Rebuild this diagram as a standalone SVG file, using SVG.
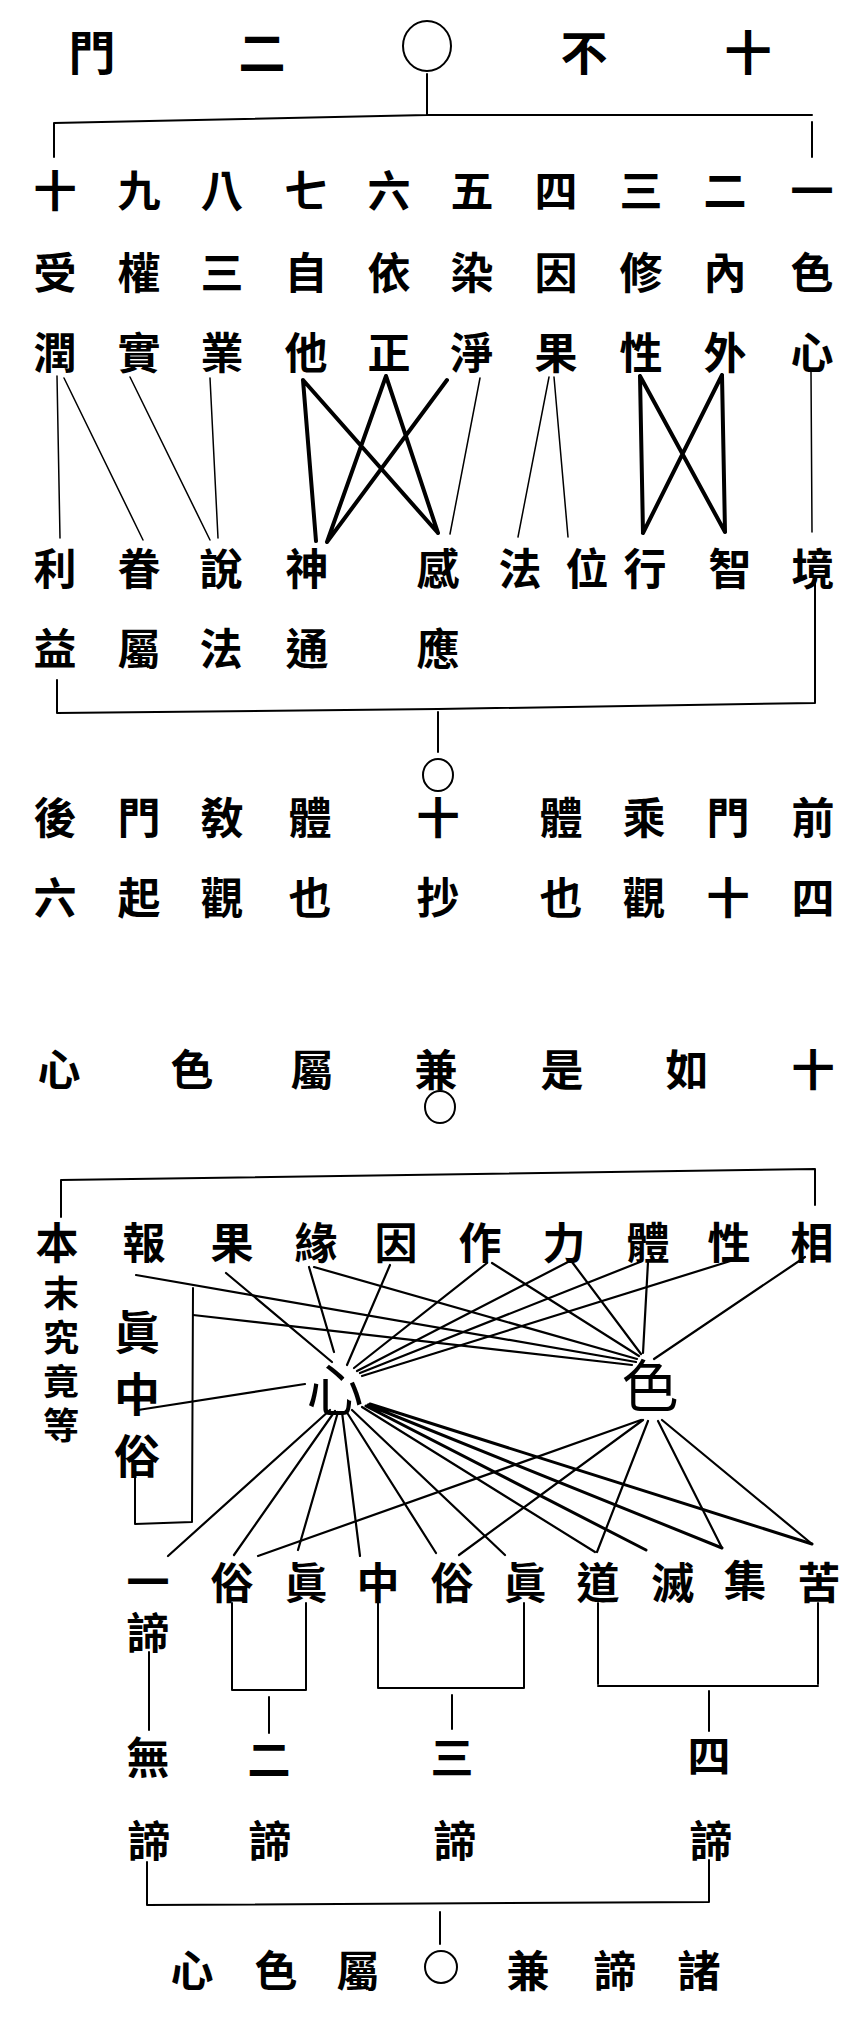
<svg xmlns="http://www.w3.org/2000/svg" width="864" height="2025" viewBox="0 0 864 2025">
<style>
text{font-family:"Noto Sans CJK TC","Noto Sans CJK SC",sans-serif;font-weight:700;fill:#000;text-anchor:middle;dominant-baseline:central}
.t{font-size:47px}
.r{font-size:43px}
.s{font-size:36px}
.b{font-size:57px;font-weight:400}
.m{font-size:46px}
.v{writing-mode:vertical-rl;text-anchor:start}
.ln{stroke:#000;fill:none;stroke-width:2;stroke-linecap:round;stroke-linejoin:round}
.th{stroke:#000;fill:none;stroke-width:4;stroke-linecap:round}
.tn{stroke:#000;fill:none;stroke-width:1.5;stroke-linecap:round}
.ne{stroke:#000;fill:none;stroke-width:2.2;stroke-linecap:round}
.c{stroke:#000;fill:none;stroke-width:2}
</style>
<rect width="864" height="2025" fill="#fff"/>

<g id="title">
<text class="t" x="92" y="49">門</text>
<text class="t" x="262" y="49">二</text>
<ellipse class="c" cx="427" cy="46" rx="24" ry="25"/>
<text class="t" x="584" y="49">不</text>
<text class="t" x="748" y="49">十</text>
</g>

<g id="row-numbers">
<text class="r" x="55" y="188">十</text>
<text class="r" x="139" y="188">九</text>
<text class="r" x="222" y="188">八</text>
<text class="r" x="306" y="188">七</text>
<text class="r" x="389" y="188">六</text>
<text class="r" x="472" y="188">五</text>
<text class="r" x="556" y="188">四</text>
<text class="r" x="641" y="188">三</text>
<text class="r" x="725" y="188">二</text>
<text class="r" x="812" y="188">一</text>
</g>
<g id="row-gates-1">
<text class="r" x="55" y="270">受</text>
<text class="r" x="139" y="270">權</text>
<text class="r" x="222" y="270">三</text>
<text class="r" x="306" y="270">自</text>
<text class="r" x="389" y="270">依</text>
<text class="r" x="472" y="270">染</text>
<text class="r" x="556" y="270">因</text>
<text class="r" x="641" y="270">修</text>
<text class="r" x="725" y="270">內</text>
<text class="r" x="812" y="270">色</text>
</g>
<g id="row-gates-2">
<text class="r" x="55" y="350">潤</text>
<text class="r" x="139" y="350">實</text>
<text class="r" x="222" y="350">業</text>
<text class="r" x="306" y="350">他</text>
<text class="r" x="389" y="350">正</text>
<text class="r" x="472" y="350">淨</text>
<text class="r" x="556" y="350">果</text>
<text class="r" x="641" y="350">性</text>
<text class="r" x="725" y="350">外</text>
<text class="r" x="812" y="350">心</text>
</g>
<g id="row-myo-1">
<text class="r" x="55" y="566">利</text>
<text class="r" x="139" y="566">眷</text>
<text class="r" x="221" y="566">說</text>
<text class="r" x="307" y="566">神</text>
<text class="r" x="438" y="566">感</text>
<text class="r" x="520" y="566">法</text>
<text class="r" x="587" y="566">位</text>
<text class="r" x="645" y="566">行</text>
<text class="r" x="730" y="566">智</text>
<text class="r" x="813" y="566">境</text>
</g>
<g id="row-myo-2">
<text class="r" x="55" y="646">益</text>
<text class="r" x="139" y="646">屬</text>
<text class="r" x="221" y="646">法</text>
<text class="r" x="307" y="646">通</text>
<text class="r" x="438" y="646">應</text>
</g>

<g id="circle-mid1">
<ellipse class="c" cx="438" cy="775" rx="15" ry="16"/>
</g>
<g id="row-note-1">
<text class="r" x="55" y="815">後</text>
<text class="r" x="139" y="815">門</text>
<text class="r" x="222" y="815">敎</text>
<text class="r" x="310" y="815">體</text>
<text class="r" x="438" y="815">十</text>
<text class="r" x="561" y="815">體</text>
<text class="r" x="644" y="815">乘</text>
<text class="r" x="728" y="815">門</text>
<text class="r" x="813" y="815">前</text>
</g>
<g id="row-note-2">
<text class="r" x="55" y="895">六</text>
<text class="r" x="139" y="895">起</text>
<text class="r" x="222" y="895">觀</text>
<text class="r" x="310" y="895">也</text>
<text class="r" x="438" y="895">抄</text>
<text class="r" x="561" y="895">也</text>
<text class="r" x="644" y="895">觀</text>
<text class="r" x="728" y="895">十</text>
<text class="r" x="813" y="895">四</text>
</g>
<g id="row-heading-2">
<text class="r" x="59" y="1067">心</text>
<text class="r" x="192" y="1067">色</text>
<text class="r" x="312" y="1067">屬</text>
<text class="r" x="436" y="1067">兼</text>
<text class="r" x="562" y="1067">是</text>
<text class="r" x="687" y="1067">如</text>
<text class="r" x="813" y="1067">十</text>
<ellipse class="c" cx="440" cy="1107" rx="15" ry="16"/>
</g>

<g id="row-nyoze">
<text class="r" x="57" y="1240">本</text>
<text class="r" x="144" y="1240">報</text>
<text class="r" x="232" y="1240">果</text>
<text class="r" x="316" y="1240">緣</text>
<text class="r" x="396" y="1240">因</text>
<text class="r" x="480" y="1240">作</text>
<text class="r" x="564" y="1240">力</text>
<text class="r" x="648" y="1240">體</text>
<text class="r" x="729" y="1240">性</text>
<text class="r" x="812" y="1240">相</text>
</g>
<g id="honmatsu">
<text class="s v" x="61" y="1275" letter-spacing="8">末究竟等</text>
</g>
<g id="shinchuzoku">
<text class="m v" x="137" y="1309" letter-spacing="16">眞中俗</text>
</g>
<g id="shin">
<text class="b" x="335" y="1386">心</text>
</g>
<g id="shiki">
<text class="b" x="650" y="1382">色</text>
</g>

<g id="row-truths">
<text class="r v" x="148" y="1560" letter-spacing="8">一諦</text>
<text class="r" x="232" y="1580">俗</text>
<text class="r" x="306" y="1580">眞</text>
<text class="r" x="378" y="1580">中</text>
<text class="r" x="452" y="1580">俗</text>
<text class="r" x="525" y="1580">眞</text>
<text class="r" x="598" y="1580">道</text>
<text class="r" x="673" y="1580">滅</text>
<text class="r" x="745" y="1578">集</text>
<text class="r" x="819" y="1580">苦</text>
</g>
<g id="truth-counts">
<text class="r" x="148" y="1755">無</text>
<text class="r" x="269" y="1757">二</text>
<text class="r" x="452" y="1755">三</text>
<text class="r" x="709" y="1753">四</text>
<text class="r" x="149" y="1838">諦</text>
<text class="r" x="270" y="1838">諦</text>
<text class="r" x="455" y="1838">諦</text>
<text class="r" x="711" y="1838">諦</text>
</g>
<g id="footer">
<text class="r" x="192" y="1968">心</text>
<text class="r" x="276" y="1968">色</text>
<text class="r" x="358" y="1968">屬</text>
<ellipse class="c" cx="441" cy="1967" rx="16" ry="16"/>
<text class="r" x="528" y="1968">兼</text>
<text class="r" x="615" y="1968">諦</text>
<text class="r" x="699" y="1968">諸</text>
</g>

<g id="connectors">
<path class="ln" d="M427,74 L427,115 M54,157 L54,123 L427,115 L812,115 M812,122 L812,157"/>
<path class="tn" d="M57,376 L60,538 M64,378 L143,540 M130,377 L210,540 M210,378 L218,538 M480,378 L450,534 M549,377 L518,537 M554,377 L568,537 M811,372 L812,532"/>
<path class="th" d="M303,380 L316,541 M303,380 L438,533 M386,376 L327,542 M386,376 L438,533 M447,380 L327,542 M640,376 L643,533 M640,376 L725,532 M722,375 L725,532 M722,375 L643,533"/>
<path class="ln" d="M57,680 L57,713 L438,709 L815,703 L815,582 M438,712 L438,752"/>
<path class="ln" d="M61,1217 L61,1180 L815,1169 L815,1205"/>
<path class="ln" d="M135,1472 L135,1524 L192,1522 L193,1288"/>
<path class="ne" d="M226,1273 L332,1362 M309,1267 L334,1352 M390,1265 L347,1365 M487,1263 L354,1368 M568,1262 L357,1371 M640,1262 L360,1373 M740,1258 L362,1376"/>
<path class="ne" d="M136,1275 L636,1362 M193,1315 L632,1365 M314,1267 L637,1359 M492,1263 L639,1356 M572,1262 L641,1354 M648,1262 L643,1353 M805,1257 L654,1359"/>
<path class="ne" d="M305,1384 L138,1410"/>
<path class="ne" d="M330,1410 L168,1556 M335,1411 L234,1555 M338,1412 L298,1550 M342,1412 L360,1556 M346,1411 L436,1553 M352,1410 L505,1555 M362,1407 L595,1552"/>
<path class="th" style="stroke-width:3" d="M366,1406 L646,1550 M368,1405 L722,1548 M370,1404 L812,1544"/>
<path class="ne" d="M641,1420 L258,1556 M643,1420 L459,1555 M648,1421 L597,1552 M658,1421 L722,1548 M662,1420 L812,1544"/>
<path class="ln" d="M149,1652 L149,1730"/>
<path class="ln" d="M232,1603 L232,1690 M306,1603 L306,1690 M232,1690 L306,1690 M269,1697 L269,1733"/>
<path class="ln" d="M378,1603 L378,1688 M524,1603 L524,1688 M378,1688 L524,1688 M452,1695 L452,1729"/>
<path class="ln" d="M598,1603 L598,1684 M818,1603 L818,1684 M598,1686 L818,1686 M709,1691 L709,1731"/>
<path class="ln" d="M147,1862 L147,1905 L709,1902 L709,1860 M440,1912 L440,1944"/>
</g>
</svg>
